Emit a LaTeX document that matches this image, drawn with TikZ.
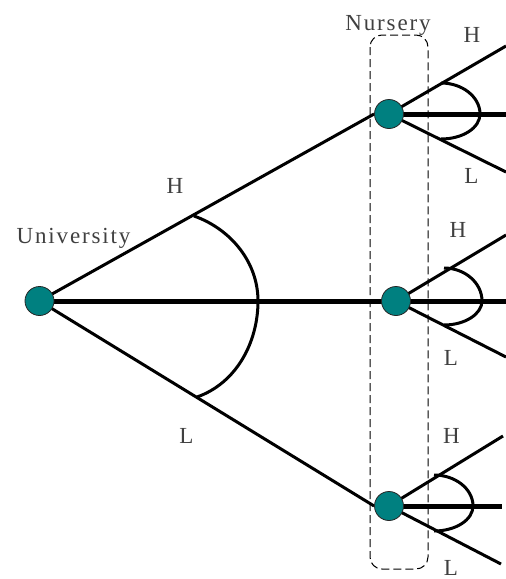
\documentclass[tikz,border=0pt]{standalone}
\usepackage{fontspec}
\setmainfont{Liberation Serif}
\newfontfamily\spaced[LetterSpace=8]{Liberation Serif}
\definecolor{tealnode}{RGB}{0,128,128}
\pgfdeclarelayer{bg}
\pgfsetlayers{bg,main}
\begin{document}
\begin{tikzpicture}[x=1pt,y=-1pt,
  dec/.style={circle,minimum size=29pt,inner sep=0pt,fill=tealnode,draw=black!85,line width=0.8pt},
  branch/.style={line width=3pt},
  mainline/.style={line width=5pt},
  sweep/.style={line width=3pt},
  lbl/.style={font=\fontsize{23}{23}\selectfont,text=black!75,inner sep=0pt,anchor=base},
  nbox/.style={dash pattern=on 8pt off 4pt,line width=1pt,rounded corners=12pt}]
\useasboundingbox (0,0) rectangle (506,579);

% decision nodes
\node[dec] (root) at (39.5,301) {};
\node[dec] (n1) at (389,114) {};
\node[dec] (n2) at (396,301) {};
\node[dec] (n3) at (389,506) {};

% free ends
\coordinate (u1) at (506,46);
\coordinate (m1) at (506,114);
\coordinate (l1) at (506,172);
\coordinate (u2) at (506,235);
\coordinate (m2) at (506,301);
\coordinate (l2) at (506,357);
\coordinate (u3) at (503,436);
\coordinate (m3) at (502,506);
\coordinate (l3) at (501,564);

\begin{pgfonlayer}{bg}
  \draw[nbox] (370,35) rectangle (428,569);
  \draw[branch] (root.center) -- (n1.west);
  \draw[branch] (root.center) -- (n3.west);
  \draw[mainline] (root.center) -- (n2.center) -- (m2);
  \draw[branch] (n1.center) -- (u1);
  \draw[mainline] (n1.center) -- (m1);
  \draw[branch] (n1.center) -- (l1);
  \draw[branch] (n2.center) -- (u2);
  \draw[branch] (n2.center) -- (l2);
  \draw[branch] (n3.center) -- (u3);
  \draw[mainline] (n3.center) -- (m3);
  \draw[branch] (n3.center) -- (l3);
  % sweep arcs
  \draw[sweep] (194,216) .. controls (230.7,229) and (258,262) .. (258,301)
               .. controls (258,342) and (236.7,383) .. (197,397);
  \draw[sweep] (441,83) .. controls (462.5,83) and (480,97) .. (480,114)
               .. controls (480,128) and (462.5,139) .. (441,139);
  \draw[sweep] (444,268) .. controls (465,268) and (482,283) .. (482,301)
               .. controls (482,314) and (465,325) .. (444,325);
  \draw[sweep] (434,475) .. controls (455.5,475) and (473,489) .. (473,506)
               .. controls (473,520) and (455.5,531) .. (434,531);
\end{pgfonlayer}

% labels
\node[lbl] (nursery) at (388,30) {\spaced Nursery};
\node[lbl] (univ) at (73.5,243) {\spaced University};
\node[lbl] (hroot) at (175,193) {H};
\node[lbl] (lroot) at (186.5,443) {L};
\node[lbl] (h1) at (472,42) {H};
\node[lbl] (l1lbl) at (471.5,183) {L};
\node[lbl] (h2) at (458,237) {H};
\node[lbl] (l2lbl) at (451,365) {L};
\node[lbl] (h3) at (451.5,443) {H};
\node[lbl] (l3lbl) at (451,575) {L};
\end{tikzpicture}
\end{document}
